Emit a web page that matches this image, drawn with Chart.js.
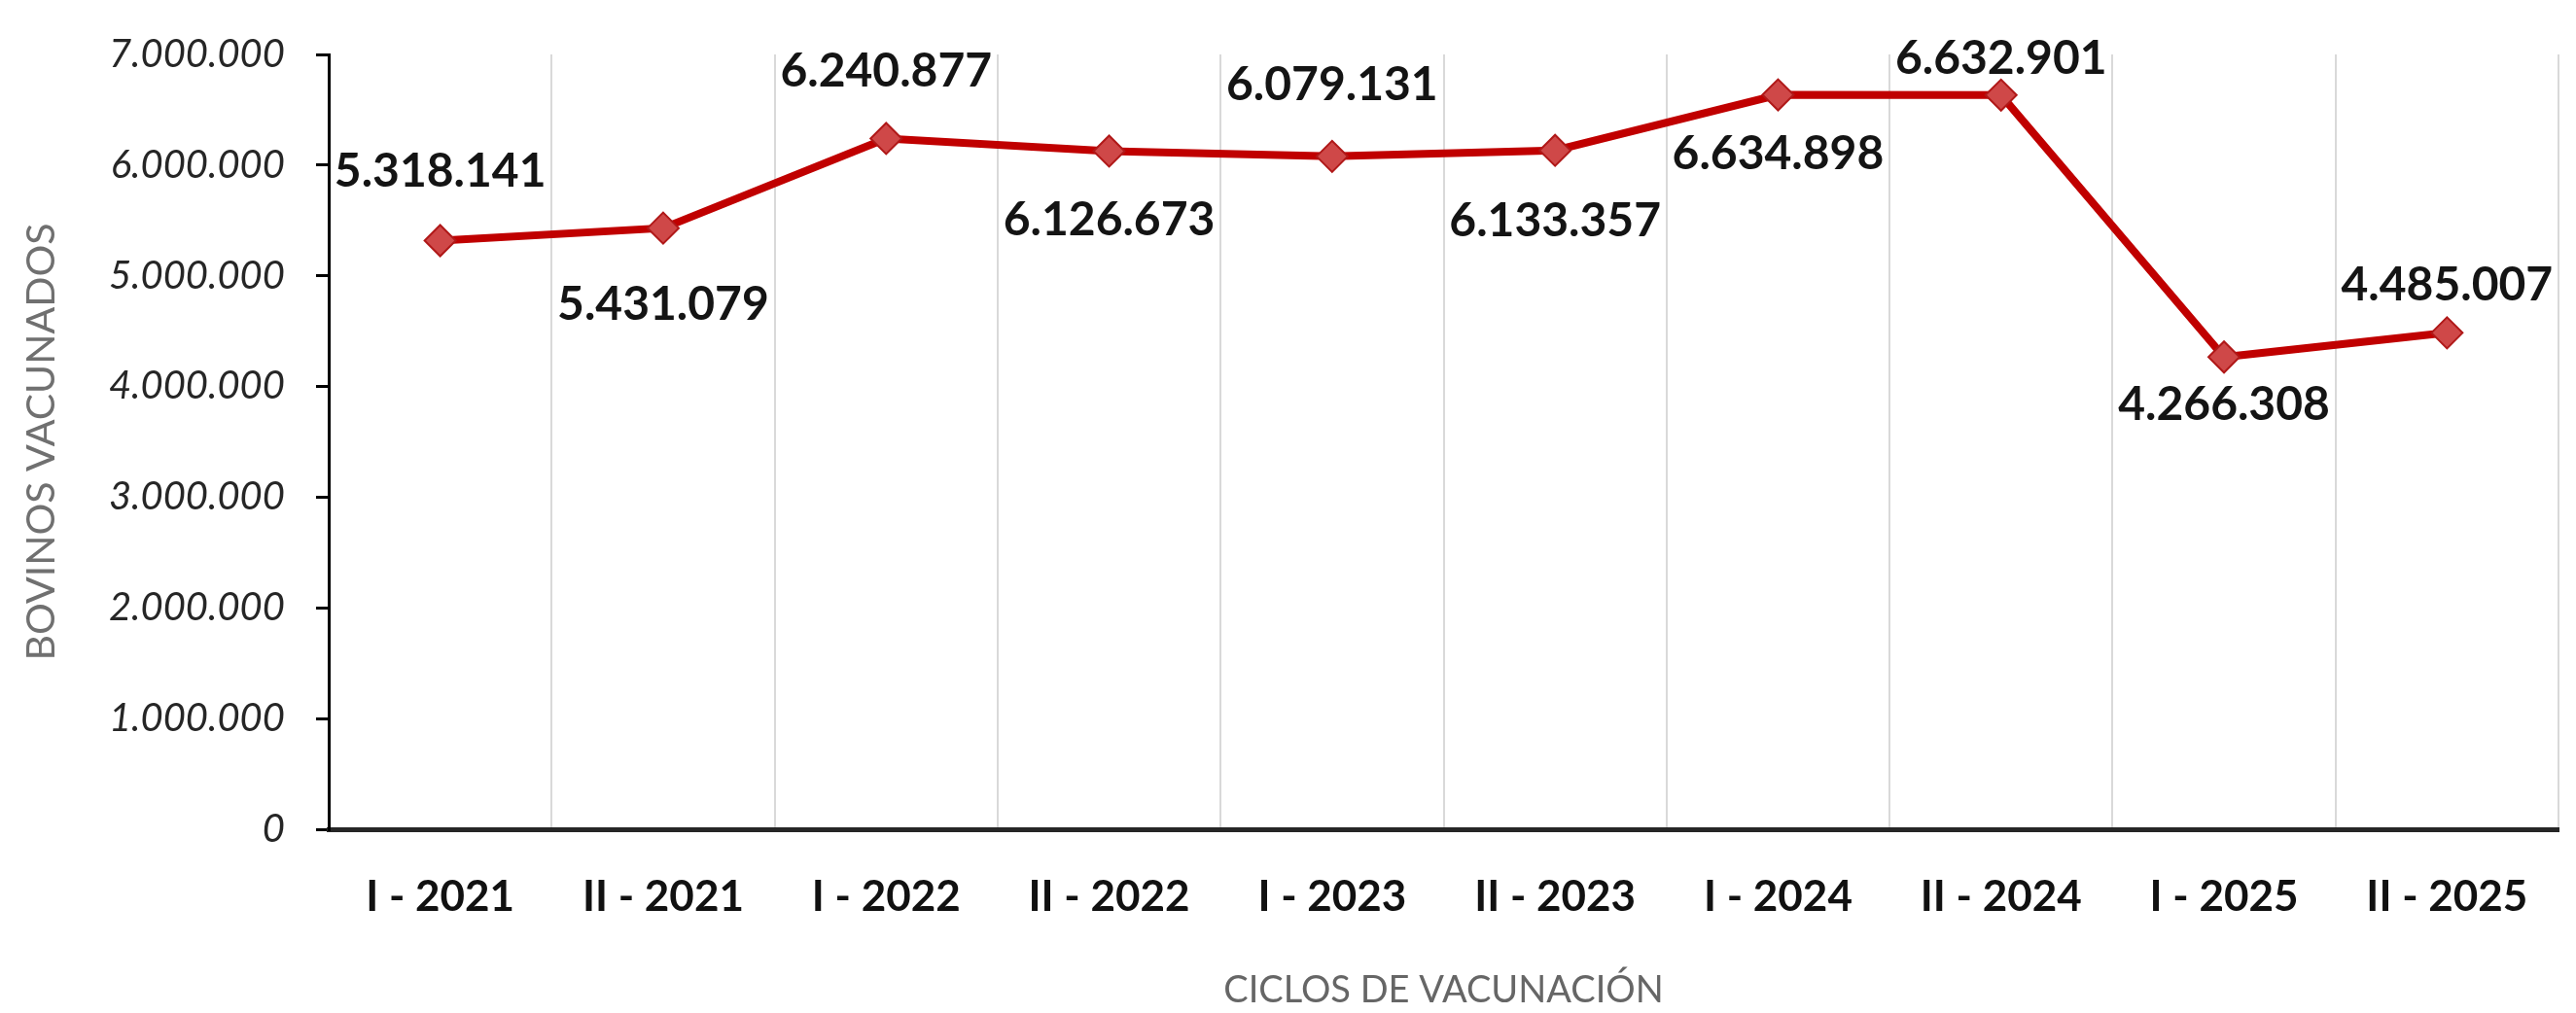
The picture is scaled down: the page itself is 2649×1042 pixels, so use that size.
<!DOCTYPE html>
<html>
<head>
<meta charset="utf-8">
<script src="https://cdn.jsdelivr.net/npm/chart.js@4"></script>
<style>
  html, body { margin: 0; padding: 0; background: #ffffff; }
  #wrap { width: 2649px; height: 1042px; }
</style>
</head>
<body>
<div id="wrap"><canvas id="c" width="2649" height="1042"></canvas></div>
<script>
// ---- data ----
const categories = ['I - 2021', 'II - 2021', 'I - 2022', 'II - 2022', 'I - 2023', 'II - 2023', 'I - 2024', 'II - 2024', 'I - 2025', 'II - 2025'];
const vaccinated = [5318141, 5431079, 6240877, 6126673, 6079131, 6133357, 6634898, 6632901, 4266308, 4485007];
const yTicks = [0, 1000000, 2000000, 3000000, 4000000, 5000000, 6000000, 7000000];
const xTitle = 'CICLOS DE VACUNACIÓN';
const yTitle = 'BOVINOS VACUNADOS';

// label offset relative to each point (px, negative = above)
const labelOffsets = [-71, 79, -69, 71, -73, 73, 61, -37, 49, -49];

const fmt = v => Math.round(v).toString().replace(/\B(?=(\d{3})+(?!\d))/g, '.');

const dataLabels = {
  id: 'dataLabels',
  afterDatasetsDraw(chart) {
    const ctx = chart.ctx;
    const meta = chart.getDatasetMeta(0);
    ctx.save();
    ctx.font = 'bold 48px Lato';
    ctx.fillStyle = '#141414';
    ctx.textAlign = 'center';
    ctx.textBaseline = 'middle';
    meta.data.forEach((el, i) => {
      const v = chart.data.datasets[0].data[i];
      ctx.fillText(fmt(v), el.x, el.y + labelOffsets[i]);
    });
    ctx.restore();
  }
};

new Chart(document.getElementById('c'), {
  type: 'line',
  data: {
    labels: categories,
    datasets: [{
      data: vaccinated,
      borderColor: '#c00000',
      borderWidth: 8,
      pointStyle: 'rectRot',
      pointRadius: 16,
      pointHoverRadius: 16,
      pointBackgroundColor: '#cf4848',
      pointBorderColor: '#b01818',
      pointBorderWidth: 2,
      tension: 0,
      fill: false
    }]
  },
  options: {
    responsive: false,
    animation: false,
    devicePixelRatio: 1,
    layout: { padding: { top: 46, right: 4, left: 0, bottom: 0 } },
    plugins: { legend: { display: false }, tooltip: { enabled: false } },
    scales: {
      x: {
        type: 'category',
        offset: true,
        grid: { display: true, offset: true, color: '#d9d9d9', lineWidth: 2, drawTicks: false },
        border: { display: true, color: '#262626', width: 5 },
        ticks: { color: '#111111', font: { family: 'Lato', size: 44, weight: 'bold' }, padding: 43, maxRotation: 0, autoSkip: false },
        title: { display: true, text: xTitle, color: '#666666', font: { family: 'Lato', size: 38 }, padding: { top: 0, bottom: 0 } },
        afterFit: s => { s.height = 189; }
      },
      y: {
        min: 0, max: 7000000,
        afterBuildTicks: s => { s.ticks = yTicks.map(v => ({ value: v })); },
        grid: { display: true, drawOnChartArea: false, drawTicks: true, tickLength: 13, color: '#000000', lineWidth: 3 },
        border: { display: true, color: '#000000', width: 3 },
        ticks: { color: '#262626', font: { family: 'Lato', size: 40, style: 'italic' }, padding: 32, callback: v => fmt(v) },
        title: { display: true, text: yTitle, color: '#707070', font: { family: 'Lato', size: 41 }, padding: { top: 18, bottom: 0 } },
        afterFit: s => { s.width = 338; }
      }
    }
  },
  plugins: [dataLabels]
});
</script>
</body>
</html>
